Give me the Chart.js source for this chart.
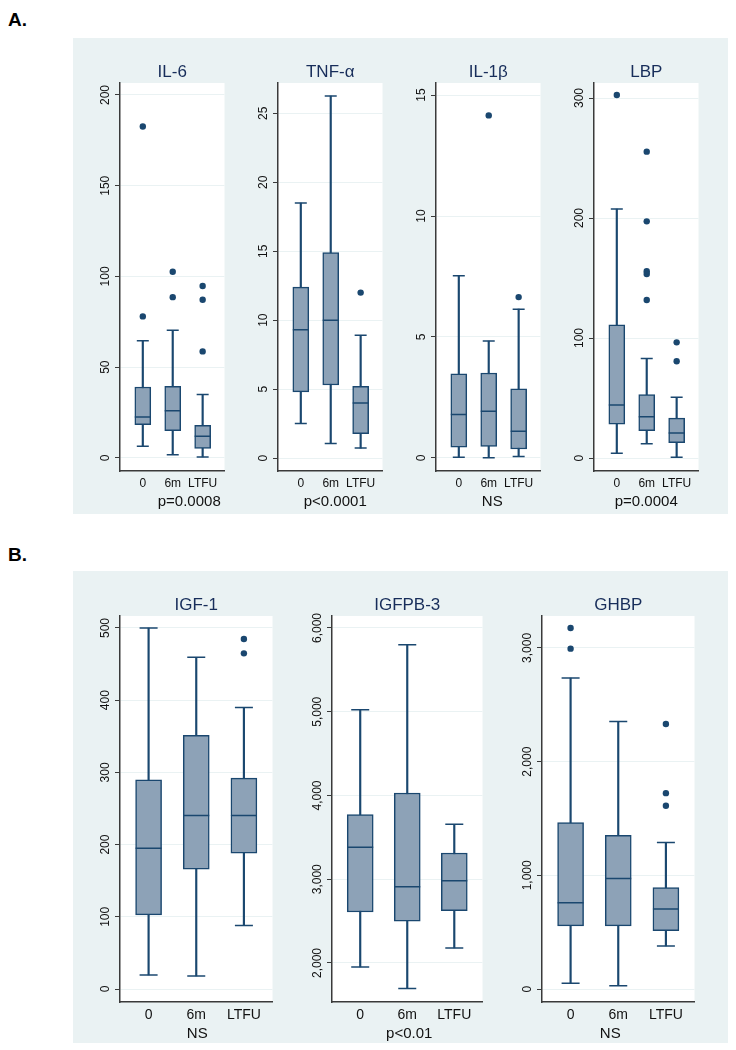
<!DOCTYPE html>
<html>
<head>
<meta charset="utf-8">
<script src="https://cdn.jsdelivr.net/npm/chart.js@4.4.1/dist/chart.umd.min.js"></script>
<style>
  body { margin:0; background:#fff; width:736px; height:1050px; position:relative; font-family:"Liberation Sans", Arial, sans-serif; }
  .panel { position:absolute; background:#eaf2f3; }
  .tag { position:absolute; font-weight:bold; font-size:19px; line-height:22px; color:#000; }
  canvas { position:absolute; }
</style>
</head>
<body>
<div class="tag" style="left:8px;top:9px">A.</div>
<div class="panel" style="left:73px;top:38px;width:655px;height:476px"></div>
<div class="tag" style="left:8px;top:544px">B.</div>
<div class="panel" style="left:73px;top:571px;width:655px;height:472px"></div>

<canvas id="c-il6"    width="154" height="452" style="left:80px;top:64px"></canvas>
<canvas id="c-tnf"    width="154" height="452" style="left:238px;top:64px"></canvas>
<canvas id="c-il1b"   width="154" height="452" style="left:396px;top:64px"></canvas>
<canvas id="c-lbp"    width="154" height="452" style="left:554px;top:64px"></canvas>
<canvas id="c-igf1"   width="207" height="451" style="left:80px;top:597px"></canvas>
<canvas id="c-igfbp3" width="205" height="451" style="left:292px;top:597px"></canvas>
<canvas id="c-ghbp"   width="207" height="451" style="left:502px;top:597px"></canvas>

<script>
/* ── Data: [low whisker, q1, median, q3, high whisker] per group ── */
const groups = ['0', '6m', 'LTFU'];

const il6Box = [[6.4, 18.3, 22.6, 39.1, 64.6], [1.8, 15, 26, 39.4, 70.3], [0.5, 5.3, 12, 18, 34.9]];
const il6Out = [[78, 182.6], [88.6, 102.6], [58.7, 87.2, 94.7]];
const il6Ticks = [0, 50, 100, 150, 200];

const tnfBox = [[2.5, 4.8, 9.3, 12.4, 18.5], [1.06, 5.3, 10, 14.9, 26.25], [0.72, 1.76, 4, 5.2, 8.9]];
const tnfOut = [[], [], [12]];
const tnfTicks = [0, 5, 10, 15, 20, 25];

const il1bBox = [[0.03, 0.45, 1.8, 3.48, 7.53], [0.01, 0.48, 1.93, 3.51, 4.83], [0.06, 0.37, 1.1, 2.86, 6.15]];
const il1bOut = [[], [14.16], [6.65]];
const il1bTicks = [0, 5, 10, 15];

const lbpBox = [[3.9, 28.3, 44.2, 111, 207.5], [11.9, 22.8, 34.4, 52.8, 83], [0.6, 12.8, 20.8, 33.3, 50.6]];
const lbpOut = [[302.5], [131.7, 153.3, 155.6, 197.2, 255.3], [80.6, 96.4]];
const lbpTicks = [0, 100, 200, 300];

const igf1Box = [[19.4, 102.6, 195, 289.7, 500], [18, 165.9, 240.3, 351.2, 459.3], [87.8, 188, 240.3, 292, 390]];
const igf1Out = [[], [], [464.9, 484.8]];
const igf1Ticks = [0, 100, 200, 300, 400, 500];

const igfbp3Box = [[1952, 2609, 3381, 3771, 5025], [1694, 2498, 2911, 4030, 5801], [2179, 2625, 2983, 3313, 3656]];
const igfbp3Out = [[], [], []];
const igfbp3Ticks = [2000, 3000, 4000, 5000, 6000];

const ghbpBox = [[50, 555, 760, 1465, 2736], [29, 555, 972, 1353, 2354], [379, 514, 704, 892, 1289]];
const ghbpOut = [[2994, 3176], [], [1612, 1723, 2331]];
const ghbpTicks = [0, 1000, 2000, 3000];

/* ── Style ── */
const NAVY  = '#1a476f';
const FILL  = '#8da2b7';
const GRID  = '#eaf2f3';
const AXIS  = '#3a3a3a';
const TITLE = '#172d5a';
const FONT  = '"Liberation Sans", Arial, sans-serif';

const fmt = v => v.toLocaleString('en-US');

const meas = document.createElement('canvas').getContext('2d');
function labelPad(ticks) {
  meas.font = '12px ' + FONT;
  const w = Math.max(...ticks.map(v => meas.measureText(fmt(v)).width));
  return 14.5 - 5 - w / 2;
}

/* white plot region + p-value note under the axis */
const notePlugin = {
  id: 'note',
  beforeDraw(chart) {
    const { ctx, chartArea: a } = chart;
    ctx.save();
    ctx.fillStyle = '#fff';
    ctx.fillRect(a.left, a.top, a.right - a.left, a.bottom - a.top);
    ctx.restore();
  },
  afterDraw(chart, args, opts) {
    const { ctx, chartArea: a } = chart;
    ctx.save();
    ctx.font = '15px ' + FONT;
    ctx.fillStyle = '#111';
    ctx.textAlign = 'center';
    ctx.textBaseline = 'middle';
    ctx.fillText(opts.text, (a.left + a.right) / 2 + opts.dx, a.bottom + opts.dy);
    ctx.restore();
  }
};

function boxChart(id, title, box, out, ticks, o) {
  const whiskers = box.map((b, i) => ({ x: i + 1, y: [b[0], b[4]] }));
  const boxes    = box.map((b, i) => ({ x: i + 1, y: [b[1], b[3]] }));
  const medians  = box.map((b, i) => ({ x: i + 1, y: b[2] }));
  const caps     = box.flatMap((b, i) => [{ x: i + 1, y: b[0] }, { x: i + 1, y: b[4] }]);
  const dots     = out.flatMap((vals, i) => vals.map(v => ({ x: i + 1, y: v })));

  return new Chart(document.getElementById(id), {
    type: 'bar',
    data: {
      datasets: [
        { type: 'bar', data: whiskers, backgroundColor: NAVY, barThickness: 1.5, grouped: false, order: 5 },
        { type: 'bar', data: boxes, backgroundColor: FILL, borderColor: NAVY, borderWidth: 1.5,
          borderSkipped: false, barThickness: o.boxW, grouped: false, order: 4 },
        { type: 'scatter', data: medians, pointStyle: 'line', pointRadius: o.boxW / 2,
          pointBorderColor: NAVY, pointBorderWidth: 1.5, order: 3 },
        { type: 'scatter', data: caps, pointStyle: 'line', pointRadius: o.capW / 2,
          pointBorderColor: NAVY, pointBorderWidth: 1.5, order: 2 },
        { type: 'scatter', data: dots, pointStyle: 'circle', pointRadius: 3.2,
          pointBackgroundColor: NAVY, pointBorderWidth: 0, order: 1 }
      ]
    },
    options: {
      responsive: false, animation: false, devicePixelRatio: 1,
      layout: { padding: { right: 4 } },
      events: [],
      plugins: {
        legend: { display: false },
        tooltip: { enabled: false },
        title: { display: true, text: title, fullSize: false, color: TITLE,
                 font: { family: FONT, size: 17, weight: 'normal', lineHeight: 1 },
                 padding: { top: 0, bottom: 2 } },
        note: { text: o.note, dx: o.dx, dy: o.dy }
      },
      scales: {
        x: {
          type: 'linear', min: o.xmin, max: o.xmax, offset: false,
          afterBuildTicks: s => { s.ticks = groups.map((g, i) => ({ value: i + 1 })); },
          afterFit: s => { s.height = o.xh; },
          grid: { display: false, drawTicks: false },
          border: { display: true, color: AXIS, width: 1.5 },
          ticks: { autoSkip: false, maxRotation: 0, padding: 5, color: '#111',
                   font: { family: FONT, size: o.xFont }, callback: v => groups[v - 1] }
        },
        y: {
          min: o.min, max: o.max,
          afterBuildTicks: s => { s.ticks = ticks.map(v => ({ value: v })); },
          afterFit: s => { s.width = 40; },
          grid: { color: GRID, lineWidth: 1, tickColor: AXIS, tickLength: 5, tickWidth: 1 },
          border: { display: true, color: AXIS, width: 1.5 },
          ticks: { autoSkip: false, minRotation: 90, maxRotation: 90, crossAlign: 'center',
                   padding: labelPad(ticks), color: '#111',
                   font: { family: FONT, size: 12 }, callback: v => fmt(v) }
        }
      }
    },
    plugins: [notePlugin]
  });
}

const A = { xmin: 0.238, xmax: 3.73, boxW: 16, capW: 12, xFont: 12, xh: 45, dy: 30.5 };
const B = { xmin: 0.4, xmax: 3.6, boxW: 26, capW: 18, xFont: 14, xh: 46, dy: 32 };

document.addEventListener('DOMContentLoaded', () => {
  boxChart('c-il6',  'IL-6',  il6Box,  il6Out,  il6Ticks,  { ...A, min: -7.2,  max: 206.6, note: 'p=0.0008', dx: 17 });
  boxChart('c-tnf',  'TNF-α', tnfBox,  tnfOut,  tnfTicks,  { ...A, min: -0.94, max: 27.2,  note: 'p<0.0001', dx: 5 });
  boxChart('c-il1b', 'IL-1β', il1bBox, il1bOut, il1bTicks, { ...A, min: -0.54, max: 15.5,  note: 'NS',       dx: 4 });
  boxChart('c-lbp',  'LBP',   lbpBox,  lbpOut,  lbpTicks,  { ...A, min: -10.8, max: 312.5, note: 'p=0.0004', dx: 0 });

  boxChart('c-igf1',   'IGF-1',   igf1Box,   igf1Out,   igf1Ticks,   { ...B, min: -18,  max: 516.6, note: 'NS',     dx: 1 });
  boxChart('c-igfbp3', 'IGFPB-3', igfbp3Box, igfbp3Out, igfbp3Ticks, { ...B, min: 1534, max: 6143,  note: 'p<0.01', dx: 2 });
  boxChart('c-ghbp',   'GHBP',    ghbpBox,   ghbpOut,   ghbpTicks,   { ...B, min: -114, max: 3281,  note: 'NS',     dx: -8 });
});
</script>
</body>
</html>
